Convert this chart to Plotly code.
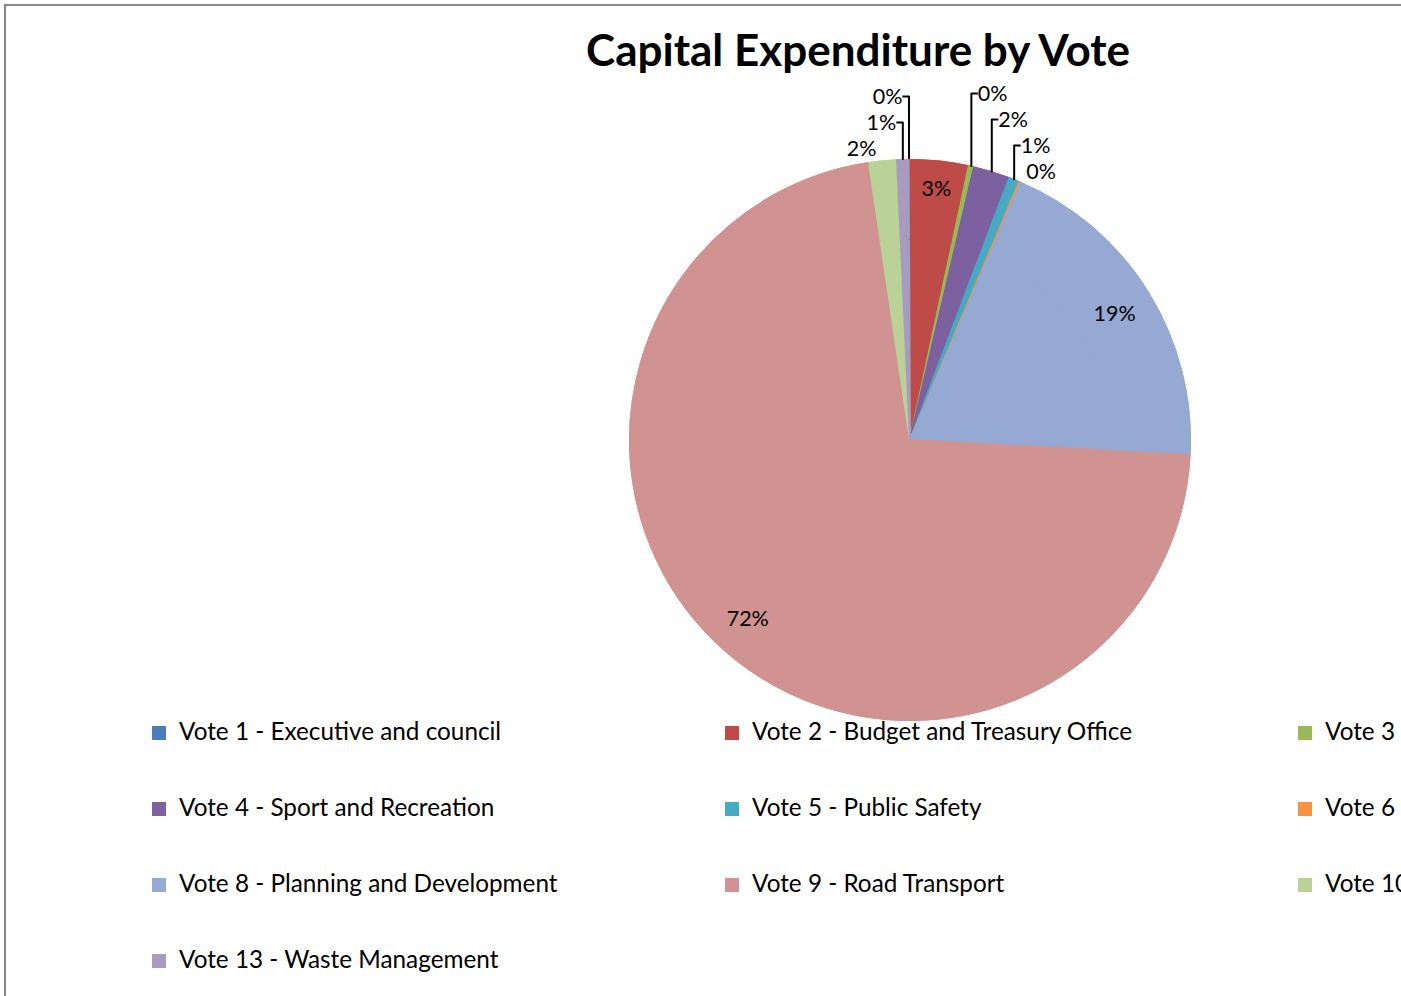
import plotly.graph_objects as go

# Capital expenditure share per vote (percent of total)
votes = [
    "Vote 1 - Executive and council",
    "Vote 2 - Budget and Treasury Office",
    "Vote 3 - Corporate Services",
    "Vote 4 - Sport and Recreation",
    "Vote 5 - Public Safety",
    "Vote 6 - Community Services",
    "Vote 8 - Planning and Development",
    "Vote 9 - Road Transport",
    "Vote 10 - Electricity",
    "Vote 13 - Waste Management",
]
shares = [0.05, 3.4, 0.3, 2.1, 0.6, 0.1, 19.4, 71.8, 1.6, 0.65]
colors = ["#4A7EBB", "#BE4B48", "#98B954", "#7D60A0", "#46AAC5",
          "#F69240", "#95A9D2", "#D19292", "#BAD198", "#A89BC0"]
text_pos = ["outside", "inside", "outside", "outside", "outside",
            "outside", "inside", "inside", "outside", "outside"]

W, H = 1950, 996          # canvas wider than the window; the right side is cut off
FONT = "Lato"
LABEL_SIZE = 21.5

# pie placement in pixels (top/bottom of the domain box)
PIE_CX, PIE_TOP, PIE_BOTTOM = 910, 160, 720
half = (PIE_BOTTOM - PIE_TOP) / 2
pie_domain = dict(x=[(PIE_CX - half) / W, (PIE_CX + half) / W],
                  y=[1 - PIE_BOTTOM / H, 1 - PIE_TOP / H])

# legend rows: a blank line above and below each name spaces the rows out
legend_names = [f"<br><span style='font-size:24.3px'>{v}</span><br>" for v in votes]

slice_marker = dict(colors=colors, line=dict(color=colors, width=2))
label_font = dict(family=FONT, size=LABEL_SIZE, color="black")

fig = go.Figure()

# full disc underneath
fig.add_trace(go.Pie(
    labels=legend_names, values=shares, sort=False,
    direction="clockwise", rotation=-0.3,
    marker=slice_marker, textinfo="none", showlegend=False,
    domain=pie_domain, hoverinfo="skip",
))

# outer ring on top carries the percentage labels near the rim
fig.add_trace(go.Pie(
    labels=legend_names, values=shares, sort=False,
    direction="clockwise", rotation=-0.3,
    hole=0.72,
    marker=slice_marker,
    texttemplate="%{percent:.0%}",
    textposition=text_pos,
    insidetextorientation="horizontal",
    textfont=label_font, outsidetextfont=label_font, insidetextfont=label_font,
    domain=pie_domain, hoverinfo="skip",
))

fig.update_layout(
    width=W,
    height=H,
    autosize=False,
    margin=dict(l=0, r=0, t=0, b=0, autoexpand=False),
    paper_bgcolor="white",
    plot_bgcolor="white",
    font=dict(family=FONT, color="black"),
    title=dict(
        text="<b>Capital Expenditure by Vote</b>",
        x=858 / W, xanchor="center", xref="paper",
        y=1 - 51 / H, yanchor="middle", yref="paper",
        font=dict(family=FONT, size=44, color="black"),
    ),
    legend=dict(
        orientation="h",
        x=139 / W, xanchor="left",
        y=1 - 690 / H, yanchor="top",
        entrywidth=528,
        entrywidthmode="pixels",
        bgcolor="rgba(0,0,0,0)",
        font=dict(family=FONT, size=18.72, color="black"),
        traceorder="normal",
    ),
    shapes=[
        dict(type="rect", xref="paper", yref="paper",
             x0=5 / W, x1=1712 / W, y0=-0.05, y1=1 - 5 / H,
             line=dict(color="#868686", width=2), fillcolor="rgba(0,0,0,0)",
             layer="below"),
    ],
)

fig.write_html(
    "out.html",
    post_script=(
        "document.body.style.margin='0';"
        "document.documentElement.style.overflow='hidden';"
        "document.body.style.overflow='hidden';"
    ),
)
